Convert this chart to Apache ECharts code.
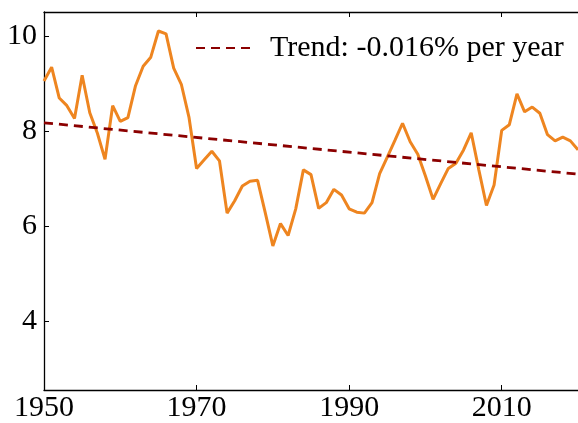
<!DOCTYPE html>
<html>
<head>
<meta charset="utf-8">
<title>Trend</title>
<script src="https://cdn.jsdelivr.net/npm/echarts@6/dist/echarts.min.js"></script>
<style>
    html, body { margin: 0; padding: 0; background: #fff; }
    #chart { width: 578px; height: 423px; }
</style>
</head>
<body>
<div id="chart"></div>
<script>
// 年度数值 1950 - 2020
var startYear = 1950;
var values = [9.05, 9.34, 8.69, 8.53, 8.26, 9.17, 8.38, 7.95, 7.40, 8.53,
              8.20, 8.28, 8.95, 9.36, 9.55, 10.10, 10.04, 9.32, 8.98, 8.29,
              7.21, 7.39, 7.57, 7.37, 6.27, 6.53, 6.84, 6.94, 6.96, 6.28,
              5.58, 6.05, 5.80, 6.36, 7.18, 7.08, 6.37, 6.49, 6.77, 6.65,
              6.36, 6.29, 6.27, 6.49, 7.10, 7.45, 7.80, 8.16, 7.77, 7.51,
              7.05, 6.56, 6.89, 7.21, 7.32, 7.60, 7.96, 7.18, 6.43, 6.86,
              8.01, 8.13, 8.78, 8.40, 8.50, 8.37, 7.92, 7.79, 7.87, 7.79,
              7.60];

// 趋势线两端
var trendYears = [1950, 2020];
var trendValues = [8.17, 7.09];
var trendName = 'Trend: -0.016% per year';

// 刻度
var xTicks = [1950, 1970, 1990, 2010];
var yTicks = [4, 6, 8, 10];

function mainChart(){
    var font = '"Liberation Serif", "DejaVu Serif", serif';

    var lineData = values.map(function(v, i){ return [startYear + i, v]; });
    var trendData = trendYears.map(function(y, i){ return [y, trendValues[i]]; });

    var myChart = echarts.init(document.getElementById('chart'), null, {renderer: 'canvas'});

    var axisLine = {show: true, lineStyle: {color: '#000', width: 1.3}};

    var option = {
        animation: false,
        grid: {
            left: 44,
            right: -5,
            top: 12,
            bottom: 29
        },
        legend: {
            data: [trendName],
            left: 190,
            top: 28,
            itemWidth: 56,
            itemHeight: 14,
            // 只保留虚线, 隐藏图例中的圆点
            itemStyle: {opacity: 0},
            textStyle: {
                fontFamily: font,
                fontSize: 30,
                color: '#000',
                padding: [0, 0, 0, 13]
            }
        },
        xAxis: [{
            type: 'value',
            min: 1950,
            max: 2020,
            axisLine: axisLine,
            splitLine: {show: false},
            axisTick: {
                inside: true,
                length: 5,
                customValues: xTicks,
                lineStyle: {color: '#000', width: 1}
            },
            axisLabel: {
                customValues: xTicks,
                margin: 3,
                fontFamily: font,
                fontSize: 30,
                color: '#000',
                formatter: function(v){ return String(v); }
            }
        }, {
            type: 'value',
            position: 'top',
            min: 1950,
            max: 2020,
            axisLine: axisLine,
            splitLine: {show: false},
            axisTick: {
                inside: true,
                length: 5,
                customValues: xTicks,
                lineStyle: {color: '#000', width: 1}
            },
            axisLabel: {show: false}
        }],
        yAxis: [{
            type: 'value',
            min: 2.55,
            max: 10.5,
            axisLine: axisLine,
            splitLine: {show: false},
            axisTick: {
                inside: true,
                length: 5,
                customValues: yTicks,
                lineStyle: {color: '#000', width: 1}
            },
            axisLabel: {
                customValues: yTicks,
                margin: 7,
                fontFamily: font,
                fontSize: 30,
                color: '#000'
            }
        }],
        series: [{
            type: 'line',
            data: lineData,
            symbol: 'none',
            z: 2,
            lineStyle: {color: '#ee8520', width: 3}
        }, {
            type: 'line',
            name: trendName,
            data: trendData,
            symbol: 'none',
            z: 3,
            itemStyle: {color: '#8b0000'},
            lineStyle: {color: '#8b0000', width: 2.8, type: [9, 6]}
        }]
    };

    myChart.setOption(option);
}

mainChart();
</script>
</body>
</html>
